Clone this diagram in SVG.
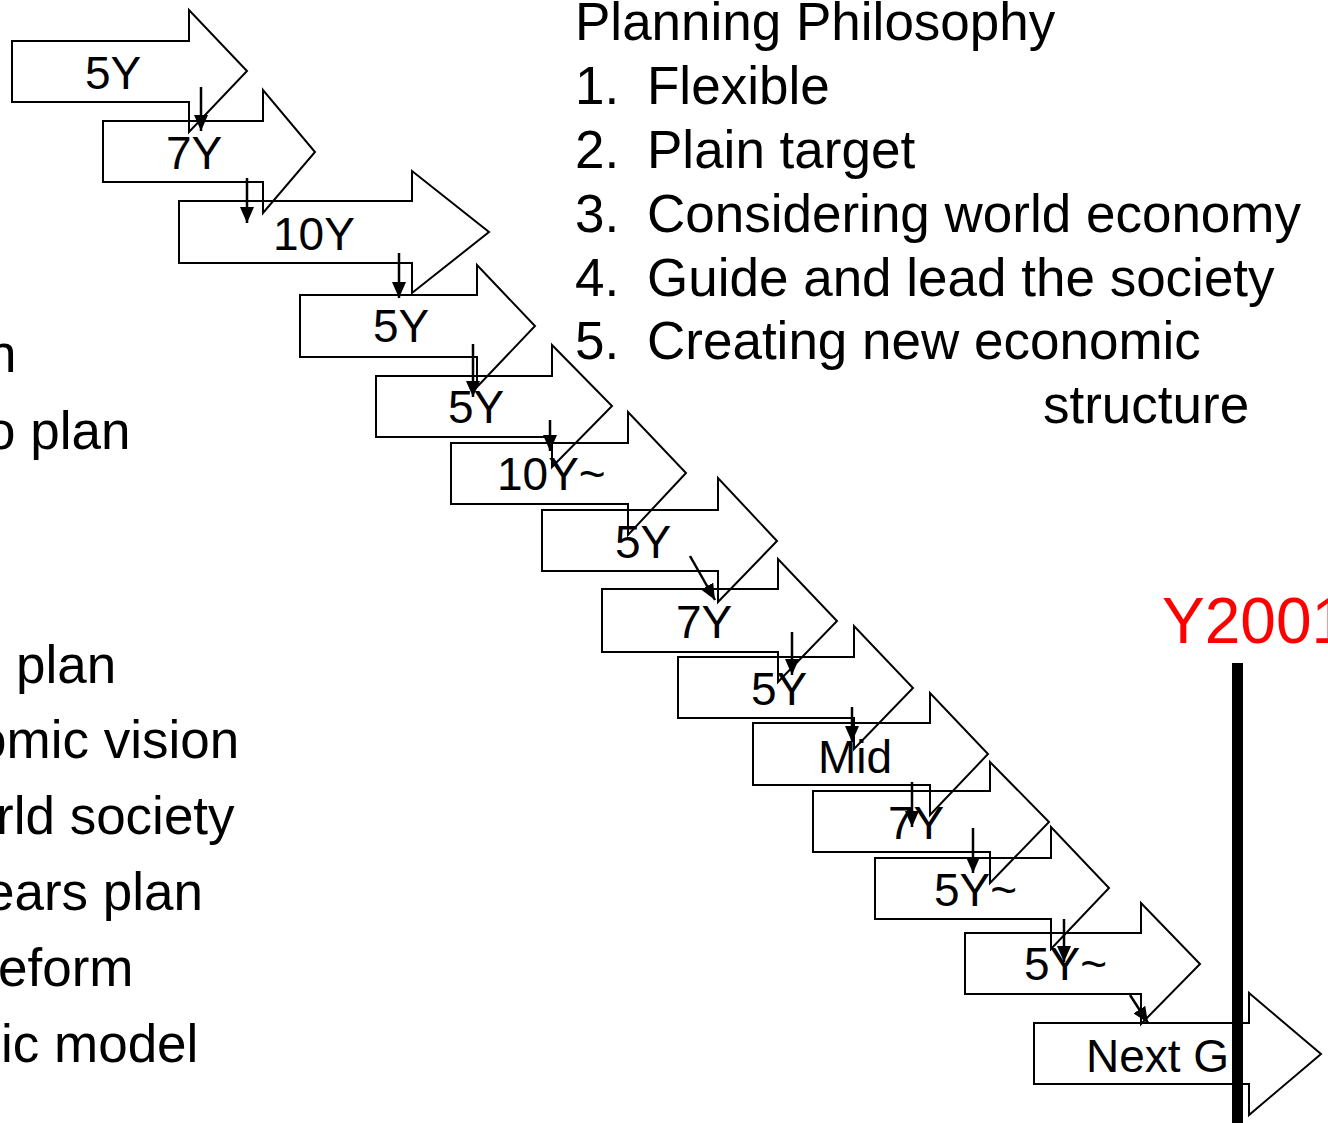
<svg xmlns="http://www.w3.org/2000/svg" width="1328" height="1123" viewBox="0 0 1328 1123">
<style>
text{font-family:"Liberation Sans",Arial,sans-serif;fill:#000}
.big{font-size:53px}
.lbl{font-size:46px}
.blk{fill:none;stroke:#000;stroke-width:2}
.con{stroke:#000;stroke-width:2.5;fill:none}
</style>
<defs>
<marker id="ah" markerUnits="userSpaceOnUse" markerWidth="17" markerHeight="14" refX="16" refY="7" orient="auto">
<path d="M0,0 L16,7 L0,14 z" fill="#000"/>
</marker>
</defs>
<rect width="1328" height="1123" fill="#fff"/>
<g id="left-text" class="big">
<text class="big" x="-13" y="372">n</text>
<text class="big" x="-14" y="449">o plan</text>
<text class="big" x="16" y="683">plan</text>
<text class="big" x="-23" y="758">omic vision</text>
<text class="big" x="-4" y="834">rld society</text>
<text class="big" x="-15" y="910">ears plan</text>
<text class="big" x="-2" y="986">eform</text>
<text class="big" x="1" y="1062">ic model</text>
</g>
<g id="philosophy">
<text class="big" x="575" y="40">Planning Philosophy</text>
<text class="big" x="575" y="104">1.</text><text class="big" x="647" y="104">Flexible</text>
<text class="big" x="575" y="168">2.</text><text class="big" x="647" y="168">Plain target</text>
<text class="big" x="575" y="232">3.</text><text class="big" x="647" y="232">Considering world economy</text>
<text class="big" x="575" y="296">4.</text><text class="big" x="647" y="296">Guide and lead the society</text>
<text class="big" x="575" y="359">5.</text><text class="big" x="647" y="359">Creating new economic</text>
<text class="big" x="1043" y="423">structure</text>
</g>
<g id="a1"><polygon class="blk" points="12,41 189,41 189,10 247,71 189,132 189,102 12,102"/><text class="lbl" x="85" y="89">5Y</text></g>
<g id="a2"><polygon class="blk" points="103,121 263,121 263,90 315,152 263,213 263,182 103,182"/><text class="lbl" x="166" y="169">7Y</text></g>
<g id="a3"><polygon class="blk" points="179,201 412,201 412,171 489,232 412,293 412,263 179,263"/><text class="lbl" x="273" y="250">10Y</text></g>
<g id="a4"><polygon class="blk" points="300,295 477,295 477,265 535,326 477,387 477,357 300,357"/><text class="lbl" x="373" y="342">5Y</text></g>
<g id="a5"><polygon class="blk" points="376,376 552,376 552,345 612,406 552,467 552,437 376,437"/><text class="lbl" x="448" y="423">5Y</text></g>
<g id="a6"><polygon class="blk" points="451,443 628,443 628,412 686,473 628,535 628,504 451,504"/><text class="lbl" x="497" y="490">10Y~</text></g>
<g id="a7"><polygon class="blk" points="542,510 718,510 718,478 777,541 718,602 718,571 542,571"/><text class="lbl" x="615" y="558">5Y</text></g>
<g id="a8"><polygon class="blk" points="602,589 778,589 778,559 837,621 778,682 778,652 602,652"/><text class="lbl" x="676" y="638">7Y</text></g>
<g id="a9"><polygon class="blk" points="678,657 854,657 854,626 913,688 854,749 854,718 678,718"/><text class="lbl" x="751" y="705">5Y</text></g>
<g id="a10"><polygon class="blk" points="753,723 930,723 930,693 988,754 930,815 930,785 753,785"/><text class="lbl" x="818" y="773">Mid</text></g>
<g id="a11"><polygon class="blk" points="813,791 990,791 990,762 1049,822 990,883 990,852 813,852"/><text class="lbl" x="888" y="839">7Y</text></g>
<g id="a12"><polygon class="blk" points="875,858 1051,858 1051,827 1109,888 1051,949 1051,919 875,919"/><text class="lbl" x="934" y="906">5Y~</text></g>
<g id="a13"><polygon class="blk" points="965,933 1141,933 1141,903 1200,964 1141,1024 1141,994 965,994"/><text class="lbl" x="1024" y="980">5Y~</text></g>
<g id="a14"><polygon class="blk" points="1034,1023 1249,1023 1249,993 1321,1054 1249,1115 1249,1084 1034,1084"/><text class="lbl" x="1086" y="1072">Next G</text></g>
<g id="connectors">
<line class="con" x1="201" y1="87" x2="201" y2="131" marker-end="url(#ah)"/>
<line class="con" x1="247" y1="178" x2="247" y2="223" marker-end="url(#ah)"/>
<line class="con" x1="399" y1="253" x2="399" y2="298" marker-end="url(#ah)"/>
<line class="con" x1="473" y1="344" x2="473" y2="397" marker-end="url(#ah)"/>
<line class="con" x1="550" y1="420" x2="550" y2="451" marker-end="url(#ah)"/>
<line class="con" x1="690" y1="556" x2="715" y2="600" marker-end="url(#ah)"/>
<line class="con" x1="792" y1="632" x2="792" y2="675" marker-end="url(#ah)"/>
<line class="con" x1="852" y1="707" x2="852" y2="742" marker-end="url(#ah)"/>
<line class="con" x1="912" y1="782" x2="912" y2="827" marker-end="url(#ah)"/>
<line class="con" x1="973" y1="828" x2="973" y2="873" marker-end="url(#ah)"/>
<line class="con" x1="1064" y1="919" x2="1064" y2="962" marker-end="url(#ah)"/>
<line class="con" x1="1130" y1="995" x2="1148" y2="1023" marker-end="url(#ah)"/>
</g>
<g id="y2001">
<text x="1162" y="643" style="font-size:64px;fill:#ff0000">Y2001</text>
<rect x="1232" y="663" width="11" height="460" fill="#000"/>
</g>
</svg>
